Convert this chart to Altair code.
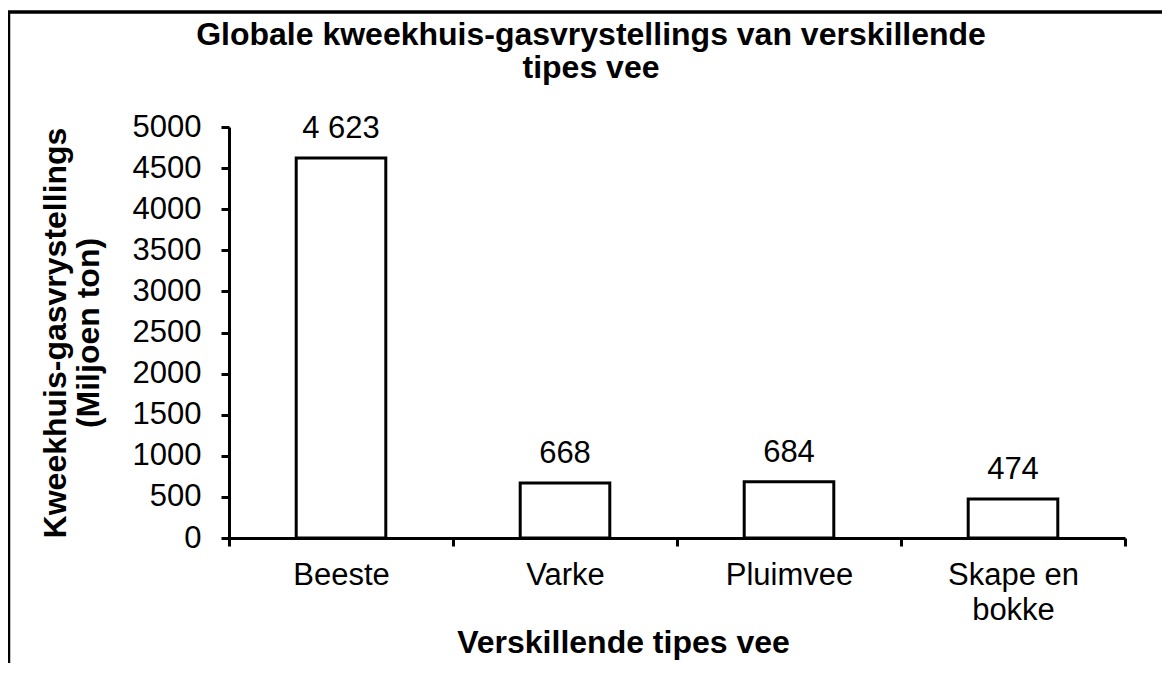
import altair as alt
import pandas as pd

# ---- data ----
categories = ["Beeste", "Varke", "Pluimvee", "Skape en bokke"]
values = [4623, 668, 684, 474]
value_labels = ["4 623", "668", "684", "474"]
y_ticks = list(range(0, 5001, 500))
title_lines = ["Globale kweekhuis-gasvrystellings van verskillende", "tipes vee"]
y_title = ["Kweekhuis-gasvrystellings", "(Miljoen ton)"]
x_title = "Verskillende tipes vee"

F = "Liberation Sans, Arial, Helvetica, sans-serif"

df = pd.DataFrame({"cat": categories, "val": values, "lab": value_labels})

x_enc = alt.X(
    "cat:N",
    sort=categories,
    scale=alt.Scale(paddingInner=0, paddingOuter=0),
    axis=alt.Axis(
        title=x_title,
        titleFont=F, titleFontSize=32, titleFontWeight="bold", titleColor="black",
        titleX=394, titleY=114, titleAlign="center", titleBaseline="alphabetic",
        labelFont=F, labelFontSize=31, labelColor="black", labelAngle=0,
        labelPadding=14, labelLineHeight=35,
        labelExpr="datum.label == 'Skape en bokke' ? ['Skape en', 'bokke'] : datum.label",
        tickBand="extent", tickSize=8, tickWidth=3, tickColor="black",
        domainColor="black", domainWidth=3, grid=False,
    ),
)
y_enc = alt.Y(
    "val:Q",
    scale=alt.Scale(domain=[0, 5000], nice=False),
    axis=alt.Axis(
        title=y_title,
        titleFont=F, titleFontSize=32, titleFontWeight="bold", titleColor="black",
        titleAngle=270, titleX=-157, titleY=205.5, titleAlign="center",
        titleBaseline="bottom", titleLineHeight=33,
        values=y_ticks, format="d", labelFont=F, labelFontSize=31, labelColor="black",
        labelPadding=20, tickSize=8, tickWidth=3, tickColor="black",
        domainColor="black", domainWidth=3, grid=False,
    ),
)

frame = alt.Chart(pd.DataFrame({"a": [0]})).mark_rect(
    filled=False, stroke="black", strokeWidth=3.5
).encode(
    x=alt.value(-220.5), x2=alt.value(1000), y=alt.value(-115), y2=alt.value(700)
)

title = alt.Chart(pd.DataFrame({"t": [title_lines]})).mark_text(
    font=F, fontSize=32, fontWeight="bold", color="black",
    baseline="alphabetic", align="center", lineHeight=33,
).encode(x=alt.value(362), y=alt.value(-82), text="t")

bars = alt.Chart(df).mark_bar(
    width=alt.RelativeBandSize(0.4), fill="white", stroke="black", strokeWidth=3
).encode(x=x_enc, y=y_enc)

text = alt.Chart(df).mark_text(
    font=F, fontSize=31, color="black", baseline="alphabetic", dy=-20
).encode(x=x_enc, y=y_enc, text="lab:N")

chart = alt.layer(frame, title, bars, text).properties(
    width=896,
    height=411,
    background="white",
    padding={"left": 221, "top": 119, "right": 37, "bottom": 125},
    autosize=alt.AutoSizeParams(type="none"),
).configure_view(stroke="transparent", strokeWidth=0)

chart.save("out.html", embed_options={"renderer": "svg", "actions": False})
